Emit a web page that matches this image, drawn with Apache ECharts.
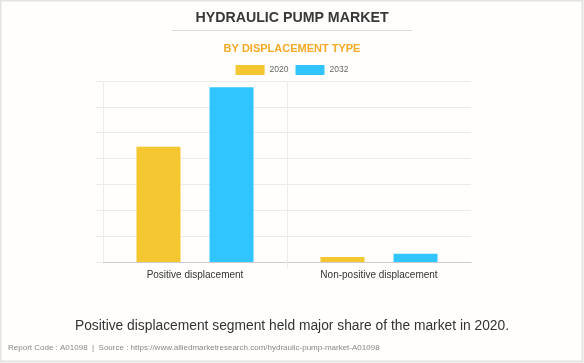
<!DOCTYPE html>
<html><head><meta charset="utf-8">
<script src="https://cdn.jsdelivr.net/npm/echarts@6/dist/echarts.min.js"></script>
<style>html,body{margin:0;padding:0;background:#fff}#c{width:584px;height:363px}</style>
</head><body><div id="c"></div>
<script>
const categories = ['Positive displacement', 'Non-positive displacement'];
const seriesNames = ['2020', '2032'];
const values2020 = [4.46, 0.19];
const values2032 = [6.76, 0.32];
const yTicks = [0, 1, 2, 3, 4, 5, 6, 7];

const chart = echarts.init(document.getElementById('c'), null, {renderer: 'canvas'});
const ff = '"Liberation Sans", Arial, sans-serif';
// boundary positions between categories (n+1 points), used only for the middle separator tick
const boundaries = Array.from({length: categories.length + 1}, () => '');
chart.setOption({
  backgroundColor: '#fffefd',
  animation: false,
  textStyle: {fontFamily: ff},
  title: [
    {text: 'HYDRAULIC PUMP MARKET', left: 'center', top: 6, padding: 5,
     textStyle: {fontSize: 14.2, fontWeight: 'bold', color: '#383838', fontFamily: ff}},
    {text: 'BY DISPLACEMENT TYPE', left: 'center', top: 38, padding: 5,
     textStyle: {fontSize: 11, fontWeight: 'bold', color: '#f5a926', fontFamily: ff}},
    {text: 'Positive displacement segment held major share of the market in 2020.', left: 'center', top: 314, padding: 5,
     textStyle: {fontSize: 13.8, fontWeight: 'normal', color: '#333', fontFamily: ff}},
    {text: 'Report Code : A01098  |  Source : https://www.alliedmarketresearch.com/hydraulic-pump-market-A01098', left: 3, top: 339, padding: 5,
     textStyle: {fontSize: 8, fontWeight: 'normal', color: '#888', fontFamily: ff}}
  ],
  graphic: [
    {type: 'rect', shape: {x: 0.5, y: 0.5, width: 582, height: 361}, style: {fill: 'none', stroke: '#e3e3e3', lineWidth: 2}, silent: true},
    {type: 'line', shape: {x1: 172, y1: 30.5, x2: 412, y2: 30.5}, style: {stroke: '#dddddd', lineWidth: 1}, silent: true}
  ],
  legend: {
    data: seriesNames, top: 65, left: 'center', padding: 0, itemWidth: 29, itemHeight: 10, itemGap: 7,
    textStyle: {fontSize: 8.5, color: '#666', fontFamily: ff}, icon: 'rect'
  },
  grid: {left: 103, right: 113, top: 81, bottom: 101, containLabel: false},
  xAxis: [{
    type: 'category', data: categories,
    axisLine: {lineStyle: {color: '#cccccc'}},
    axisTick: {show: false},
    splitLine: {show: true, showMaxLine: false, lineStyle: {color: '#ececec'}},
    axisLabel: {fontSize: 10, color: '#333', margin: 8, fontFamily: ff}
  }, {
    type: 'category', data: boundaries, boundaryGap: false, position: 'bottom',
    axisLine: {show: false},
    axisLabel: {show: false},
    splitLine: {show: false},
    axisTick: {show: true, length: 7, interval: (idx) => idx > 0 && idx < categories.length, lineStyle: {color: '#ececec'}}
  }],
  yAxis: {
    type: 'value', min: yTicks[0], max: yTicks[yTicks.length - 1], interval: 1,
    axisLabel: {show: false},
    axisLine: {show: false},
    axisTick: {show: true, length: 7, lineStyle: {color: '#ececec'}},
    splitLine: {lineStyle: {color: '#ececec'}}
  },
  series: [
    {name: seriesNames[0], type: 'bar', data: values2020, barWidth: 44, barGap: '66%',
     itemStyle: {color: '#f4c630'}},
    {name: seriesNames[1], type: 'bar', data: values2032, barWidth: 44,
     itemStyle: {color: '#30c5ff'}}
  ]
});
</script></body></html>
